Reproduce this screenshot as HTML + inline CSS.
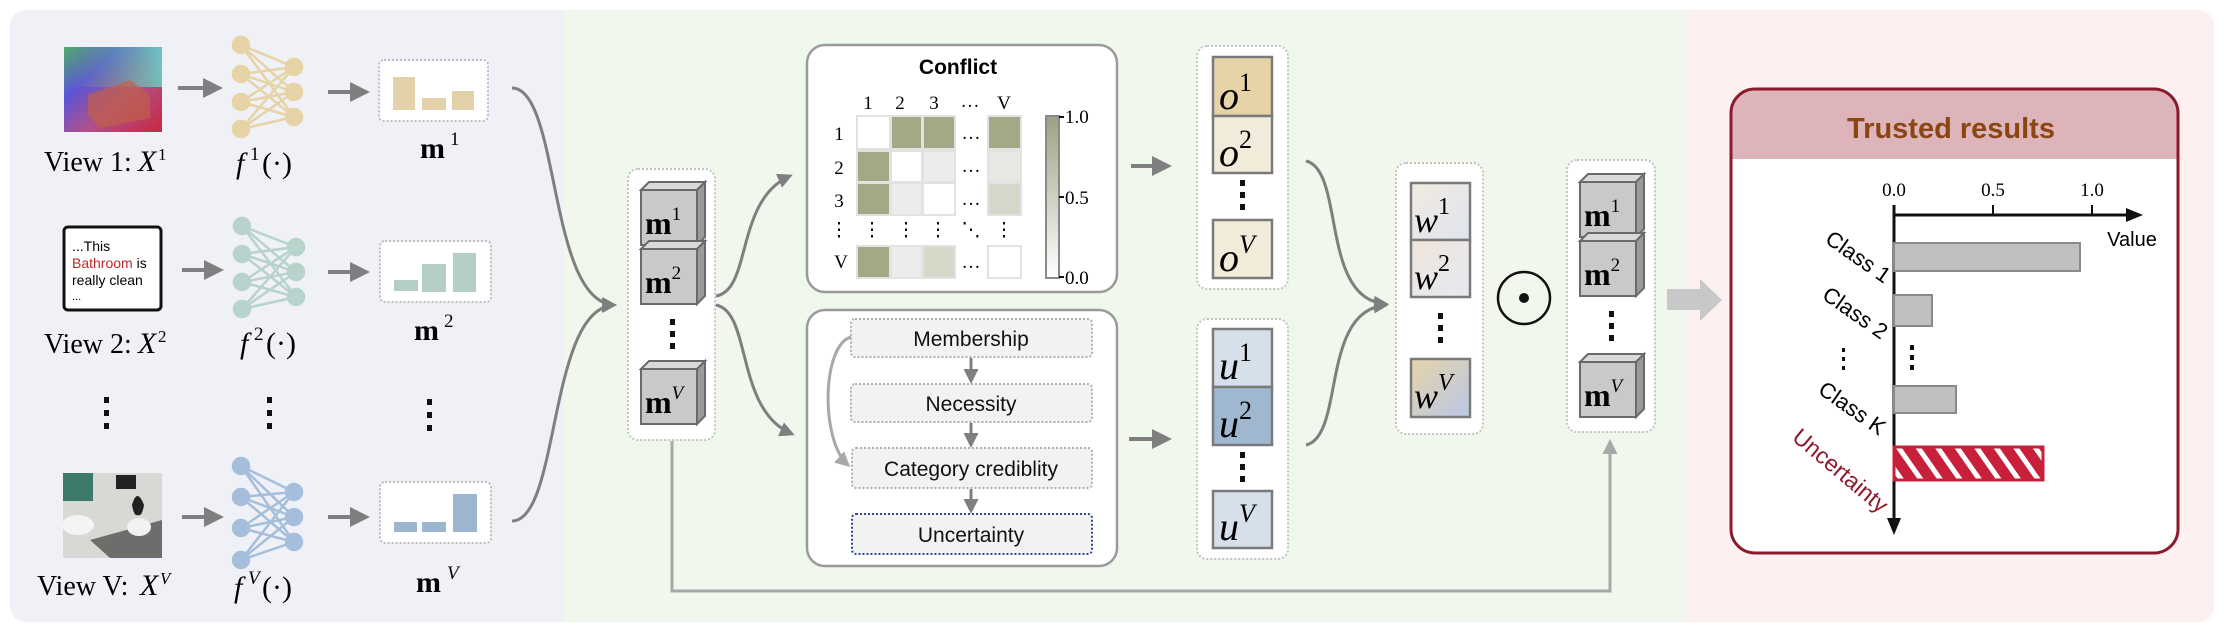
<!DOCTYPE html>
<html><head><meta charset="utf-8">
<style>
html,body{margin:0;padding:0;background:#fff;}
svg{display:block;}
.ser{font-family:"Liberation Serif","DejaVu Serif",serif;}
.san{font-family:"Liberation Sans","DejaVu Sans",sans-serif;}
</style></head><body>
<svg width="2224" height="630" viewBox="0 0 2224 630" xmlns="http://www.w3.org/2000/svg">
<defs>
<marker id="ah" viewBox="0 0 10 10" refX="8" refY="5" markerWidth="5" markerHeight="5" orient="auto"><path d="M0,0L10,5L0,10z" fill="#7f7f7f"/></marker>
<marker id="ahl" viewBox="0 0 10 10" refX="8" refY="5" markerWidth="5" markerHeight="5" orient="auto"><path d="M0,0L10,5L0,10z" fill="#a8a8a8"/></marker>
<linearGradient id="img1" x1="0" y1="0" x2="1" y2="1"><stop offset="0" stop-color="#4fae6a"/><stop offset="0.3" stop-color="#5a55d8"/><stop offset="0.6" stop-color="#b0508a"/><stop offset="1" stop-color="#c82840"/></linearGradient>
<linearGradient id="img1b" x1="0" y1="0" x2="1" y2="0"><stop offset="0" stop-color="#6f9a60" stop-opacity="0"/><stop offset="1" stop-color="#60e0d0" stop-opacity="0.8"/></linearGradient>
<linearGradient id="cbar" x1="0" y1="0" x2="0" y2="1"><stop offset="0" stop-color="#9da182"/><stop offset="1" stop-color="#ffffff"/></linearGradient>
<linearGradient id="w1" x1="0" y1="0" x2="1" y2="1"><stop offset="0" stop-color="#f1ebe0"/><stop offset="1" stop-color="#dfe4f0"/></linearGradient>
<linearGradient id="w2" x1="0" y1="0" x2="1" y2="1"><stop offset="0" stop-color="#efe6da"/><stop offset="1" stop-color="#e6e8f2"/></linearGradient>
<linearGradient id="wv" x1="0" y1="0" x2="1" y2="1"><stop offset="0" stop-color="#e6d3aa"/><stop offset="1" stop-color="#b9c8e6"/></linearGradient>
<pattern id="stripe" width="16" height="33" patternUnits="userSpaceOnUse" patternTransform="rotate(-35)"><rect width="16" height="33" fill="#c8203a"/><rect x="0" width="5" height="33" fill="#fff"/></pattern>
</defs>

<!-- panels -->
<rect x="10" y="10" width="580" height="612" rx="16" fill="#eff1f7"/>
<rect x="563" y="10" width="1123" height="612" fill="#f0f7ec"/>
<path d="M1686,10 H2198 a16,16 0 0 1 16,16 V606 a16,16 0 0 1 -16,16 H1686z" fill="#fcf0f1"/>

<!-- Row 1 -->
<rect x="64" y="47" width="98" height="85" fill="url(#img1)"/>
<rect x="64" y="47" width="98" height="40" fill="url(#img1b)"/>
<polygon points="88,95 130,80 150,95 150,118 100,128 88,115" fill="#c06048" opacity="0.7"/>
<line x1="178" y1="88" x2="219" y2="88" stroke="#7f7f7f" stroke-width="4" marker-end="url(#ah)"/>
<g stroke="#e6d3a6" stroke-width="2.5" fill="#e6d3a6">
<path d="M241,45L294,67M241,45L294,92M241,45L294,117M241,74L294,67M241,74L294,92M241,74L294,117M241,102L294,67M241,102L294,92M241,102L294,117M241,129L294,67M241,129L294,92M241,129L294,117" fill="none"/>
<circle cx="241" cy="45" r="8"/><circle cx="241" cy="74" r="8"/><circle cx="241" cy="102" r="8"/><circle cx="241" cy="129" r="8"/>
<circle cx="294" cy="67" r="8"/><circle cx="294" cy="92" r="8"/><circle cx="294" cy="117" r="8"/>
</g>
<line x1="328" y1="92" x2="366" y2="92" stroke="#7f7f7f" stroke-width="4" marker-end="url(#ah)"/>
<rect x="379" y="60" width="109" height="61" rx="5" fill="#fff" stroke="#bdbdbd" stroke-width="2" stroke-dasharray="2,2"/>
<g fill="#e3d2a8"><rect x="393" y="77" width="22" height="33"/><rect x="422" y="98" width="24" height="12"/><rect x="452" y="91" width="22" height="19"/></g>
<text x="420" y="158" class="ser" font-size="30" font-weight="bold">m</text><text x="450" y="145" class="ser" font-size="19">1</text>
<text x="44" y="171" class="ser" font-size="28">View 1:</text><text x="138" y="171" class="ser" font-size="30" font-style="italic">X</text><text x="158" y="160" class="ser" font-size="17">1</text>
<text x="236" y="173" class="ser" font-size="30" font-style="italic">f</text><text x="250" y="160" class="ser" font-size="19">1</text><text x="262" y="173" class="ser" font-size="30">(·)</text>

<!-- Row 2 -->
<rect x="64" y="227" width="97" height="83" rx="4" fill="#fff" stroke="#111" stroke-width="3"/>
<text x="72" y="251" class="san" font-size="14">...This</text>
<text x="72" y="268" class="san" font-size="14"><tspan fill="#c0282a">Bathroom</tspan> is</text>
<text x="72" y="285" class="san" font-size="14">really clean</text>
<text x="72" y="300" class="san" font-size="11">...</text>
<line x1="182" y1="270" x2="220" y2="270" stroke="#7f7f7f" stroke-width="4" marker-end="url(#ah)"/>
<g stroke="#b8d3cb" stroke-width="2.5" fill="#b8d3cb">
<path d="M242,226L296,247M242,226L296,272M242,226L296,297M242,254L296,247M242,254L296,272M242,254L296,297M242,282L296,247M242,282L296,272M242,282L296,297M242,309L296,247M242,309L296,272M242,309L296,297" fill="none"/>
<circle cx="242" cy="226" r="8"/><circle cx="242" cy="254" r="8"/><circle cx="242" cy="282" r="8"/><circle cx="242" cy="309" r="8"/>
<circle cx="296" cy="247" r="8"/><circle cx="296" cy="272" r="8"/><circle cx="296" cy="297" r="8"/>
</g>
<line x1="328" y1="272" x2="366" y2="272" stroke="#7f7f7f" stroke-width="4" marker-end="url(#ah)"/>
<rect x="380" y="241" width="111" height="61" rx="5" fill="#fff" stroke="#bdbdbd" stroke-width="2" stroke-dasharray="2,2"/>
<g fill="#b6cfc6"><rect x="394" y="280" width="24" height="11"/><rect x="422" y="264" width="24" height="28"/><rect x="453" y="253" width="23" height="39"/></g>
<text x="414" y="340" class="ser" font-size="30" font-weight="bold">m</text><text x="444" y="327" class="ser" font-size="19">2</text>
<text x="44" y="353" class="ser" font-size="28">View 2:</text><text x="138" y="353" class="ser" font-size="30" font-style="italic">X</text><text x="158" y="342" class="ser" font-size="17">2</text>
<text x="240" y="353" class="ser" font-size="30" font-style="italic">f</text><text x="254" y="340" class="ser" font-size="19">2</text><text x="266" y="353" class="ser" font-size="30">(·)</text>

<!-- dots -->
<g fill="#111"><rect x="104" y="397" width="5" height="6"/><rect x="104" y="410" width="5" height="6"/><rect x="104" y="423" width="5" height="6"/>
<rect x="267" y="397" width="5" height="6"/><rect x="267" y="410" width="5" height="6"/><rect x="267" y="423" width="5" height="6"/>
<rect x="427" y="399" width="5" height="6"/><rect x="427" y="412" width="5" height="6"/><rect x="427" y="425" width="5" height="6"/></g>

<!-- Row V -->
<rect x="63" y="473" width="99" height="85" fill="#d8d8d4"/>
<rect x="63" y="473" width="30" height="28" fill="#3d7a6a"/>
<polygon points="90,540 162,520 162,558 110,558" fill="#6d6d6b"/>
<ellipse cx="78" cy="525" rx="16" ry="10" fill="#f4f4f4"/>
<rect x="116" y="475" width="20" height="14" fill="#222"/>
<path d="M132,505 q5,-18 12,0 q-2,12 -6,10 q-4,2 -6,-10z" fill="#222"/>
<ellipse cx="139" cy="527" rx="12" ry="9" fill="#f2f2f2"/>
<line x1="182" y1="517" x2="220" y2="517" stroke="#7f7f7f" stroke-width="4" marker-end="url(#ah)"/>
<g stroke="#a5bedb" stroke-width="2.5" fill="#a5bedb">
<path d="M241,466L294,492M241,466L294,517M241,466L294,542M241,497L294,492M241,497L294,517M241,497L294,542M241,528L294,492M241,528L294,517M241,528L294,542M241,560L294,492M241,560L294,517M241,560L294,542" fill="none"/>
<circle cx="241" cy="466" r="8"/><circle cx="241" cy="497" r="8"/><circle cx="241" cy="528" r="8"/><circle cx="241" cy="560" r="8"/>
<circle cx="294" cy="492" r="8"/><circle cx="294" cy="517" r="8"/><circle cx="294" cy="542" r="8"/>
</g>
<line x1="328" y1="517" x2="366" y2="517" stroke="#7f7f7f" stroke-width="4" marker-end="url(#ah)"/>
<rect x="380" y="482" width="111" height="61" rx="5" fill="#fff" stroke="#bdbdbd" stroke-width="2" stroke-dasharray="2,2"/>
<g fill="#9db6cf"><rect x="394" y="522" width="23" height="10"/><rect x="422" y="522" width="24" height="10"/><rect x="453" y="494" width="24" height="38"/></g>
<text x="416" y="592" class="ser" font-size="30" font-weight="bold">m</text><text x="447" y="579" class="ser" font-size="19" font-style="italic">V</text>
<text x="37" y="595" class="ser" font-size="28">View V:</text><text x="140" y="595" class="ser" font-size="30" font-style="italic">X</text><text x="160" y="584" class="ser" font-size="17" font-style="italic">V</text>
<text x="234" y="597" class="ser" font-size="30" font-style="italic">f</text><text x="248" y="584" class="ser" font-size="19" font-style="italic">V</text><text x="262" y="597" class="ser" font-size="30">(·)</text>

<!-- curves to stack -->
<g fill="none" stroke="#7f7f7f" stroke-width="3">
<path d="M512,88 C560,88 548,302 614,305" marker-end="url(#ah)"/>
<path d="M512,521 C560,521 548,308 614,305" marker-end="url(#ah)"/>
</g>

<!-- stack 1 -->
<rect x="628" y="169" width="87" height="271" rx="10" fill="#fff" stroke="#c3c3c3" stroke-width="2" stroke-dasharray="2,2"/>
<g stroke="#6a6a6a" stroke-width="2">
<g transform="translate(641,190)"><polygon points="0,0 8,-8 64,-8 56,0" fill="#dadada"/><polygon points="56,0 64,-8 64,47 56,55" fill="#9a9a9a"/><rect width="56" height="55" fill="#c9c9c9"/></g>
<g transform="translate(641,249)"><polygon points="0,0 8,-8 64,-8 56,0" fill="#dadada"/><polygon points="56,0 64,-8 64,47 56,55" fill="#9a9a9a"/><rect width="56" height="55" fill="#c9c9c9"/></g>
<g transform="translate(641,369)"><polygon points="0,0 8,-8 64,-8 56,0" fill="#dadada"/><polygon points="56,0 64,-8 64,47 56,55" fill="#9a9a9a"/><rect width="56" height="55" fill="#c9c9c9"/></g>
</g>
<g class="ser" font-size="32" font-weight="bold">
<text x="645" y="234">m<tspan dy="-14" font-size="19" font-weight="normal">1</tspan></text>
<text x="645" y="293">m<tspan dy="-14" font-size="19" font-weight="normal">2</tspan></text>
<text x="645" y="413">m<tspan dy="-14" font-size="19" font-weight="normal" font-style="italic">V</tspan></text>
</g>
<g fill="#111"><rect x="670" y="319" width="5" height="6"/><rect x="670" y="331" width="5" height="6"/><rect x="670" y="343" width="5" height="6"/></g>

<!-- stack to modules -->
<g fill="none" stroke="#7f7f7f" stroke-width="3">
<path d="M716,296 C752,290 735,200 790,176" marker-end="url(#ah)"/>
<path d="M716,305 C752,312 735,410 792,434" marker-end="url(#ah)"/>
</g>
<path d="M672,441 V591 H1610 V442" fill="none" stroke="#a8a8a8" stroke-width="3" marker-end="url(#ahl)"/>

<!-- Conflict box -->
<rect x="807" y="45" width="310" height="247" rx="18" fill="#fff" stroke="#9a9a9a" stroke-width="2.5"/>
<text x="958" y="74" text-anchor="middle" class="san" font-size="21" font-weight="bold">Conflict</text>
<g class="ser" font-size="19" text-anchor="middle">
<text x="868" y="109">1</text><text x="900" y="109">2</text><text x="934" y="109">3</text><text x="970" y="107">…</text><text x="1004" y="109">V</text>
<text x="839" y="140">1</text><text x="839" y="174">2</text><text x="839" y="207">3</text><text x="841" y="268">V</text>
<text x="971" y="139">…</text><text x="971" y="172">…</text><text x="971" y="205">…</text><text x="971" y="268">…</text>
<text x="839" y="236">⋮</text><text x="872" y="236">⋮</text><text x="906" y="236">⋮</text><text x="938" y="236">⋮</text><text x="971" y="236">⋱</text><text x="1004" y="236">⋮</text>
</g>
<g stroke="#e2e2e2" stroke-width="2">
<rect x="857" y="116" width="33" height="33" fill="#fff"/><rect x="891" y="116" width="31" height="33" fill="#a3a887"/><rect x="923" y="116" width="32" height="33" fill="#a3a887"/><rect x="988" y="116" width="33" height="33" fill="#a3a887"/>
<rect x="857" y="151" width="33" height="31" fill="#a3a887"/><rect x="891" y="151" width="31" height="31" fill="#fff"/><rect x="923" y="151" width="32" height="31" fill="#ececea"/><rect x="988" y="151" width="33" height="31" fill="#e8e8e3"/>
<rect x="857" y="183" width="33" height="32" fill="#a3a887"/><rect x="891" y="183" width="31" height="32" fill="#ececea"/><rect x="923" y="183" width="32" height="32" fill="#fff"/><rect x="988" y="183" width="33" height="32" fill="#d5d7c8"/>
<rect x="857" y="246" width="33" height="32" fill="#a3a887"/><rect x="891" y="246" width="31" height="32" fill="#ececea"/><rect x="923" y="246" width="32" height="32" fill="#d6d8c8"/><rect x="988" y="246" width="33" height="32" fill="#fff"/>
</g>
<rect x="1046" y="116" width="13" height="162" fill="url(#cbar)" stroke="#8a8a8a" stroke-width="2"/>
<g stroke="#111" stroke-width="2"><line x1="1059" y1="117" x2="1064" y2="117"/><line x1="1059" y1="197" x2="1064" y2="197"/><line x1="1059" y1="277" x2="1064" y2="277"/></g>
<g class="ser" font-size="19"><text x="1065" y="123">1.0</text><text x="1065" y="204">0.5</text><text x="1065" y="284">0.0</text></g>
<line x1="1131" y1="166" x2="1168" y2="166" stroke="#7f7f7f" stroke-width="4" marker-end="url(#ah)"/>

<!-- lower module -->
<rect x="807" y="310" width="310" height="256" rx="18" fill="#fff" stroke="#9a9a9a" stroke-width="2.5"/>
<g stroke="#b0b0b0" stroke-width="2" stroke-dasharray="2,2" fill="#f2f2f2">
<rect x="851" y="319" width="241" height="38" rx="4"/>
<rect x="851" y="384" width="241" height="38" rx="4"/>
<rect x="852" y="448" width="240" height="40" rx="4"/>
<rect x="852" y="514" width="240" height="40" rx="4" stroke="#2d4b8a"/>
</g>
<g class="san" font-size="21" text-anchor="middle" fill="#111">
<text x="971" y="346">Membership</text><text x="971" y="411">Necessity</text><text x="971" y="476">Category crediblity</text><text x="971" y="542">Uncertainty</text>
</g>
<g stroke="#7f7f7f" stroke-width="3" fill="none">
<line x1="971" y1="358" x2="971" y2="381" marker-end="url(#ah)"/>
<line x1="971" y1="423" x2="971" y2="445" marker-end="url(#ah)"/>
<line x1="971" y1="489" x2="971" y2="511" marker-end="url(#ah)"/>
</g>
<path d="M851,337 C822,345 820,440 848,465" fill="none" stroke="#a8a8a8" stroke-width="3" marker-end="url(#ahl)"/>
<line x1="1129" y1="439" x2="1168" y2="439" stroke="#7f7f7f" stroke-width="4" marker-end="url(#ah)"/>

<!-- o stack -->
<rect x="1197" y="46" width="91" height="243" rx="10" fill="#fff" stroke="#c3c3c3" stroke-width="2" stroke-dasharray="2,2"/>
<g stroke="#7a7a7a" stroke-width="2.5">
<rect x="1213" y="57" width="59" height="59" fill="#e6d4a8"/><rect x="1213" y="116" width="59" height="57" fill="#f3ebda"/><rect x="1213" y="220" width="59" height="58" fill="#f3ebda"/>
</g>
<g class="ser" font-style="italic" font-size="40">
<text x="1219" y="109">o<tspan dy="-18" font-size="26" font-style="normal">1</tspan></text>
<text x="1219" y="166">o<tspan dy="-18" font-size="26" font-style="normal">2</tspan></text>
<text x="1219" y="271">o<tspan dy="-18" font-size="26">V</tspan></text>
</g>
<g fill="#111"><rect x="1240" y="180" width="5" height="6"/><rect x="1240" y="192" width="5" height="6"/><rect x="1240" y="204" width="5" height="6"/></g>

<!-- u stack -->
<rect x="1197" y="319" width="91" height="240" rx="10" fill="#fff" stroke="#c3c3c3" stroke-width="2" stroke-dasharray="2,2"/>
<g stroke="#7a7a7a" stroke-width="2.5">
<rect x="1213" y="329" width="59" height="58" fill="#d5e0ea"/><rect x="1213" y="387" width="59" height="58" fill="#9fb7cf"/><rect x="1213" y="491" width="59" height="57" fill="#d5e0ea"/>
</g>
<g class="ser" font-style="italic" font-size="40">
<text x="1219" y="379">u<tspan dy="-18" font-size="26" font-style="normal">1</tspan></text>
<text x="1219" y="437">u<tspan dy="-18" font-size="26" font-style="normal">2</tspan></text>
<text x="1219" y="540">u<tspan dy="-18" font-size="26">V</tspan></text>
</g>
<g fill="#111"><rect x="1240" y="452" width="5" height="6"/><rect x="1240" y="464" width="5" height="6"/><rect x="1240" y="476" width="5" height="6"/></g>

<g fill="none" stroke="#7f7f7f" stroke-width="3">
<path d="M1306,161 C1345,170 1320,300 1386,304" marker-end="url(#ah)"/>
<path d="M1306,445 C1345,436 1320,310 1386,305" marker-end="url(#ah)"/>
</g>

<!-- w stack -->
<rect x="1396" y="163" width="87" height="271" rx="10" fill="#fff" stroke="#c3c3c3" stroke-width="2" stroke-dasharray="2,2"/>
<g stroke="#7a7a7a" stroke-width="2.5">
<rect x="1411" y="183" width="59" height="57" fill="url(#w1)"/><rect x="1411" y="240" width="59" height="57" fill="url(#w2)"/><rect x="1411" y="359" width="59" height="58" fill="url(#wv)"/>
</g>
<g class="ser" font-style="italic" font-size="36">
<text x="1414" y="232">w<tspan dy="-18" font-size="24" font-style="normal">1</tspan></text>
<text x="1414" y="289">w<tspan dy="-18" font-size="24" font-style="normal">2</tspan></text>
<text x="1414" y="408">w<tspan dy="-18" font-size="24">V</tspan></text>
</g>
<g fill="#111"><rect x="1438" y="313" width="5" height="6"/><rect x="1438" y="325" width="5" height="6"/><rect x="1438" y="337" width="5" height="6"/></g>

<!-- odot -->
<circle cx="1524" cy="298" r="26" fill="none" stroke="#111" stroke-width="2.5"/>
<circle cx="1524" cy="298" r="5" fill="#111"/>

<!-- final stack -->
<rect x="1567" y="160" width="88" height="272" rx="10" fill="#fff" stroke="#c3c3c3" stroke-width="2" stroke-dasharray="2,2"/>
<g stroke="#6a6a6a" stroke-width="2">
<g transform="translate(1580,182)"><polygon points="0,0 8,-8 64,-8 56,0" fill="#dadada"/><polygon points="56,0 64,-8 64,47 56,55" fill="#9a9a9a"/><rect width="56" height="55" fill="#c9c9c9"/></g>
<g transform="translate(1580,241)"><polygon points="0,0 8,-8 64,-8 56,0" fill="#dadada"/><polygon points="56,0 64,-8 64,47 56,55" fill="#9a9a9a"/><rect width="56" height="55" fill="#c9c9c9"/></g>
<g transform="translate(1580,362)"><polygon points="0,0 8,-8 64,-8 56,0" fill="#dadada"/><polygon points="56,0 64,-8 64,47 56,55" fill="#9a9a9a"/><rect width="56" height="55" fill="#c9c9c9"/></g>
</g>
<g class="ser" font-size="32" font-weight="bold">
<text x="1584" y="226">m<tspan dy="-14" font-size="19" font-weight="normal">1</tspan></text>
<text x="1584" y="285">m<tspan dy="-14" font-size="19" font-weight="normal">2</tspan></text>
<text x="1584" y="406">m<tspan dy="-14" font-size="19" font-weight="normal" font-style="italic">V</tspan></text>
</g>
<g fill="#111"><rect x="1609" y="311" width="5" height="6"/><rect x="1609" y="323" width="5" height="6"/><rect x="1609" y="335" width="5" height="6"/></g>

<!-- big arrow -->
<polygon points="1667,289 1700,289 1700,279 1722,300 1700,321 1700,310 1667,310" fill="#c8c8c8"/>

<!-- Trusted results -->
<rect x="1731" y="89" width="447" height="464" rx="24" fill="#fff"/>
<path d="M1731,159 V113 a24,24 0 0 1 24,-24 H2154 a24,24 0 0 1 24,24 V159z" fill="#dcb4b9"/>
<rect x="1731" y="89" width="447" height="464" rx="24" fill="none" stroke="#8b1a2a" stroke-width="3"/>
<text x="1951" y="138" text-anchor="middle" class="san" font-size="29" font-weight="bold" fill="#8b4513">Trusted results</text>
<g class="ser" font-size="19" text-anchor="middle"><text x="1894" y="196">0.0</text><text x="1993" y="196">0.5</text><text x="2092" y="196">1.0</text></g>
<g stroke="#111" stroke-width="2"><line x1="1993" y1="205" x2="1993" y2="215"/><line x1="2092" y1="205" x2="2092" y2="215"/></g>
<line x1="1894" y1="205" x2="1894" y2="520" stroke="#111" stroke-width="3"/>
<polygon points="1887,518 1901,518 1894,535" fill="#111"/>
<line x1="1894" y1="215" x2="2128" y2="215" stroke="#111" stroke-width="3"/>
<polygon points="2126,208 2143,215 2126,222" fill="#111"/>
<text x="2132" y="246" text-anchor="middle" class="san" font-size="20">Value</text>
<g fill="#c0c0c0" stroke="#8a8a8a" stroke-width="2">
<rect x="1894" y="243" width="186" height="28"/><rect x="1894" y="295" width="38" height="31"/><rect x="1894" y="386" width="62" height="27"/>
</g>
<rect x="1894" y="447" width="149" height="33" fill="url(#stripe)"/>
<rect x="1894" y="447" width="149" height="33" fill="none" stroke="#c8203a" stroke-width="3"/>
<g fill="#111"><rect x="1910" y="345" width="4" height="5"/><rect x="1910" y="355" width="4" height="5"/><rect x="1910" y="365" width="4" height="5"/></g>
<g class="san" font-size="22" text-anchor="end">
<text transform="translate(1884,284) rotate(35)">Class 1</text>
<text transform="translate(1881,340) rotate(35)">Class 2</text>
<text transform="translate(1879,436) rotate(35)">Class K</text>
<text transform="translate(1880,514) rotate(40)" fill="#8b1a2a" font-size="23">Uncertainty</text>
</g>
<g fill="#111"><rect x="1842" y="348" width="3" height="4"/><rect x="1842" y="357" width="3" height="4"/><rect x="1842" y="366" width="3" height="4"/></g>
</svg>
</body></html>
